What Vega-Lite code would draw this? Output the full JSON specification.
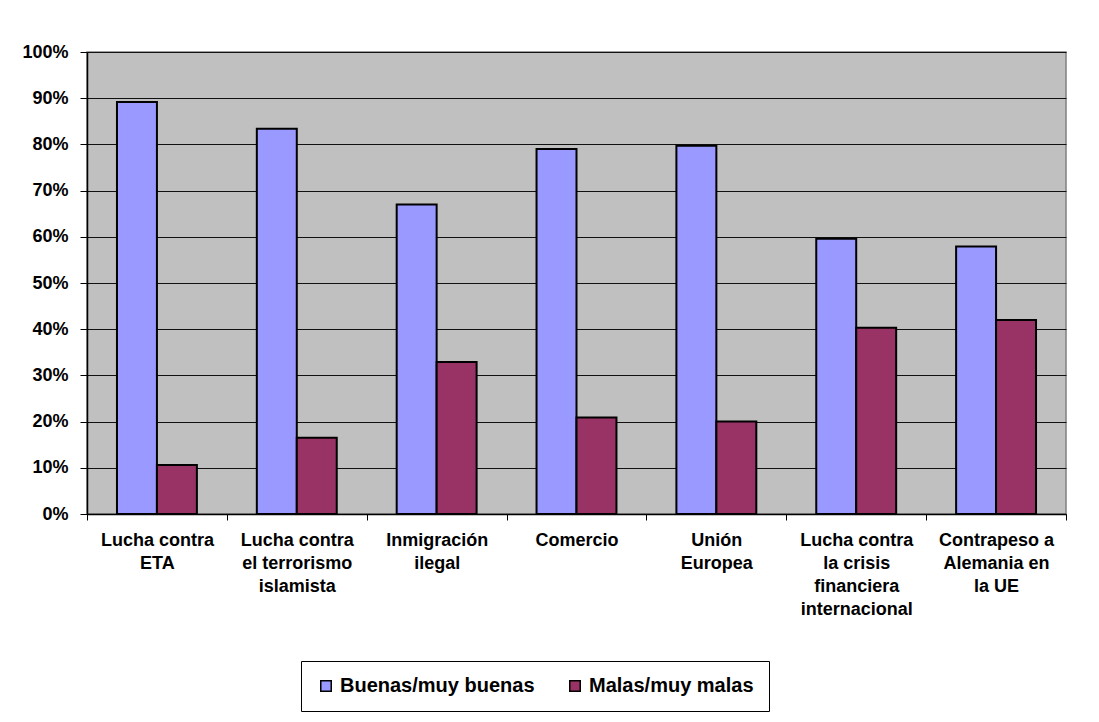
{
  "$schema": "https://vega.github.io/schema/vega-lite/v6.json",
  "autosize": {"type": "none"},
  "width": 979,
  "height": 462,
  "padding": {"left": 87, "top": 52, "right": 33, "bottom": 208},
  "background": "white",
  "config": {
    "view": {"fill": "#C0C0C0", "stroke": "#808080", "strokeWidth": 1.5},
    "font": "Liberation Sans"
  },
  "data": {
    "values": [
      {"tema": "Lucha contra|ETA", "serie": "Buenas/muy buenas", "valor": 0.892},
      {"tema": "Lucha contra|ETA", "serie": "Malas/muy malas", "valor": 0.106},
      {"tema": "Lucha contra|el terrorismo|islamista", "serie": "Buenas/muy buenas", "valor": 0.834},
      {"tema": "Lucha contra|el terrorismo|islamista", "serie": "Malas/muy malas", "valor": 0.165},
      {"tema": "Inmigración|ilegal", "serie": "Buenas/muy buenas", "valor": 0.670},
      {"tema": "Inmigración|ilegal", "serie": "Malas/muy malas", "valor": 0.329},
      {"tema": "Comercio", "serie": "Buenas/muy buenas", "valor": 0.790},
      {"tema": "Comercio", "serie": "Malas/muy malas", "valor": 0.209},
      {"tema": "Unión|Europea", "serie": "Buenas/muy buenas", "valor": 0.797},
      {"tema": "Unión|Europea", "serie": "Malas/muy malas", "valor": 0.200},
      {"tema": "Lucha contra|la crisis|financiera|internacional", "serie": "Buenas/muy buenas", "valor": 0.596},
      {"tema": "Lucha contra|la crisis|financiera|internacional", "serie": "Malas/muy malas", "valor": 0.403},
      {"tema": "Contrapeso a|Alemania en|la UE", "serie": "Buenas/muy buenas", "valor": 0.579},
      {"tema": "Contrapeso a|Alemania en|la UE", "serie": "Malas/muy malas", "valor": 0.420}
    ]
  },
  "mark": {"type": "bar", "stroke": "black", "strokeWidth": 2},
  "encoding": {
    "x": {
      "field": "tema",
      "type": "nominal",
      "sort": null,
      "scale": {"paddingInner": 0, "paddingOuter": 0},
      "axis": {
        "title": null,
        "labelAngle": 0,
        "labelExpr": "split(datum.label, '|')",
        "labelFont": "Liberation Sans",
        "labelFontSize": 18,
        "labelFontWeight": "bold",
        "labelColor": "black",
        "labelLineHeight": 23,
        "labelPadding": 11,
        "labelBaseline": "top",
        "labelOverlap": false,
        "tickBand": "extent",
        "tickColor": "black",
        "tickSize": 6,
        "domainColor": "black",
        "domainWidth": 1.5,
        "labelLimit": 200
      }
    },
    "xOffset": {
      "field": "serie",
      "type": "nominal",
      "scale": {"paddingInner": 0, "paddingOuter": 0.75}
    },
    "y": {
      "field": "valor",
      "type": "quantitative",
      "scale": {"domain": [0, 1]},
      "axis": {
        "title": null,
        "format": ".0%",
        "values": [0, 0.1, 0.2, 0.3, 0.4, 0.5, 0.6, 0.7, 0.8, 0.9, 1],
        "labelOverlap": false,
        "grid": true,
        "gridColor": "#111111",
        "gridWidth": 1,
        "labelFont": "Liberation Sans",
        "labelFontSize": 18,
        "labelFontWeight": "bold",
        "labelColor": "black",
        "labelPadding": 12,
        "tickColor": "black",
        "tickSize": 7,
        "domainColor": "black",
        "domainWidth": 1.5
      }
    },
    "color": {
      "field": "serie",
      "type": "nominal",
      "scale": {"domain": ["Buenas/muy buenas", "Malas/muy malas"], "range": ["#9999FF", "#993366"]},
      "legend": {
        "title": null,
        "orient": "none",
        "direction": "horizontal",
        "legendX": 214,
        "legendY": 609,
        "symbolType": "square",
        "symbolSize": 110,
        "symbolStrokeColor": "black",
        "symbolStrokeWidth": 1.5,
        "symbolOpacity": 1,
        "labelFont": "Liberation Sans",
        "labelFontSize": 20,
        "labelFontWeight": "bold",
        "labelColor": "black",
        "labelLimit": 300,
        "labelOffset": 4,
        "columnPadding": 30,
        "padding": 15,
        "strokeColor": "black",
        "fillColor": "white"
      }
    }
  }
}
